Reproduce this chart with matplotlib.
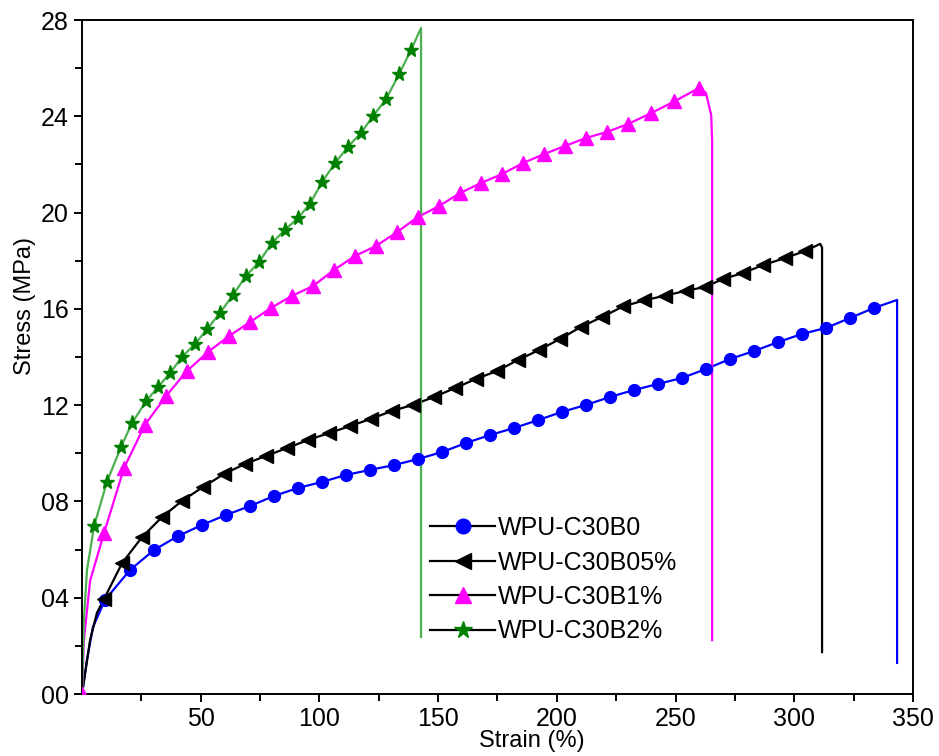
import matplotlib.pyplot as plt
from matplotlib.lines import Line2D

plt.rcParams['font.family'] = ['Liberation Sans', 'DejaVu Sans']

# WPU-C30B0 (blue circles)
b0_x = [9.7, 20.2, 30.3, 40.4, 50.5, 60.7, 70.8, 80.9, 91.0, 101.1, 111.2, 121.3,
        131.4, 141.5, 151.6, 161.8, 171.9, 182.0, 192.1, 202.2, 212.3, 222.4, 232.5,
        242.6, 252.7, 262.8, 273.0, 283.1, 293.2, 303.3, 313.4, 323.5, 333.6]
b0_y = [3.91, 5.15, 5.98, 6.56, 7.02, 7.44, 7.81, 8.23, 8.56, 8.81, 9.10, 9.31,
        9.51, 9.76, 10.05, 10.43, 10.76, 11.05, 11.38, 11.72, 12.01, 12.34, 12.63,
        12.88, 13.13, 13.50, 13.92, 14.25, 14.62, 14.96, 15.21, 15.62, 16.04]
b0_start_x = [0, 2.1, 4.6]
b0_start_y = [0, 1.41, 2.78]
b0_end_x = [343.3, 343.3]
b0_end_y = [16.37, 1.29]

# WPU-C30B05% (black left triangles)
b05_x = [9.3, 16.9, 25.3, 33.7, 42.1, 51.0, 59.8, 68.7, 77.5, 86.4, 95.2, 104.0,
         112.9, 121.7, 130.6, 139.4, 148.3, 157.1, 166.0, 174.8, 183.7, 192.5, 201.3,
         210.2, 219.0, 227.9, 236.7, 245.6, 254.4, 262.4, 270.0, 278.4, 286.9, 296.1, 304.5]
b05_y = [3.95, 5.44, 6.52, 7.35, 8.02, 8.60, 9.14, 9.56, 9.89, 10.22, 10.55, 10.84,
         11.13, 11.43, 11.76, 12.01, 12.34, 12.71, 13.09, 13.42, 13.88, 14.29, 14.75,
         15.25, 15.66, 16.10, 16.35, 16.55, 16.75, 16.91, 17.24, 17.49, 17.82, 18.11, 18.40]
b05_start_x = [0, 3.4, 6.3]
b05_start_y = [0, 2.24, 3.37]
b05_end_x = [310.9, 311.7, 311.7]
b05_end_y = [18.70, 18.55, 1.74]

# WPU-C30B1% (magenta triangles)
b1_x = [0, 9.3, 17.7, 26.5, 35.4, 44.2, 53.1, 61.9, 70.8, 79.6, 88.5, 97.3, 106.2,
        115.0, 123.8, 132.7, 141.5, 150.4, 159.2, 168.1, 176.9, 185.8, 194.6, 203.5,
        212.3, 221.1, 230.0, 239.5, 249.5, 259.9]
b1_y = [0, 6.69, 9.39, 11.18, 12.38, 13.42, 14.21, 14.87, 15.45, 16.04, 16.54, 16.95,
        17.62, 18.20, 18.61, 19.19, 19.82, 20.27, 20.81, 21.23, 21.60, 22.06, 22.43,
        22.77, 23.10, 23.35, 23.68, 24.12, 24.62, 25.18]
b1_start_x = [0.8, 3.4]
b1_start_y = [2.24, 4.70]
b1_end_x = [262.8, 265.0, 265.4, 265.4]
b1_end_y = [24.97, 24.05, 23.0, 2.24]

# WPU-C30B2% (green stars)
b2_x = [5.1, 10.5, 16.4, 21.1, 27.0, 32.0, 37.1, 42.1, 47.6, 52.7, 58.1, 63.6, 69.1,
        74.6, 80.0, 85.5, 91.0, 96.0, 101.1, 106.6, 112.0, 117.5, 122.6, 128.1, 133.6, 138.6]
b2_y = [6.98, 8.81, 10.26, 11.26, 12.17, 12.75, 13.34, 14.00, 14.54, 15.16, 15.83,
        16.58, 17.37, 17.95, 18.74, 19.28, 19.78, 20.36, 21.27, 22.06, 22.73, 23.31,
        24.01, 24.72, 25.76, 26.76]
b2_start_x = [0, 0.8, 2.1]
b2_start_y = [0, 3.07, 5.15]
b2_end_x = [142.8, 142.8]
b2_end_y = [27.67, 2.37]

labels = ['WPU-C30B0', 'WPU-C30B05%', 'WPU-C30B1%', 'WPU-C30B2%']

fig = plt.figure(figsize=(9.39, 7.56), dpi=100)
ax = fig.add_axes([82 / 939, 1 - 694 / 756, 831 / 939, 674 / 756])

series = [
    (b0_start_x, b0_start_y, b0_x, b0_y, b0_end_x, b0_end_y, '#0000ff', '#0000ff', 'o', 8.5),
    (b05_start_x, b05_start_y, b05_x, b05_y, b05_end_x, b05_end_y, 'black', 'black', '<', 10),
    (b1_start_x, b1_start_y, b1_x, b1_y, b1_end_x, b1_end_y, '#ff00ff', '#ff00ff', '^', 10),
    (b2_start_x, b2_start_y, b2_x, b2_y, b2_end_x, b2_end_y, '#4caf50', '#008000', '*', 11),
]

handles = []
for (sx, sy, mx, my, ex, ey, lc, mc, mk, ms), lab in zip(series, labels):
    if mk == '^':
        lx = [mx[0]] + sx + mx[1:] + ex
        ly = [my[0]] + sy + my[1:] + ey
    else:
        lx = sx + mx + ex
        ly = sy + my + ey
    ax.plot(lx, ly, color=lc, lw=1.6, zorder=2)
    ax.plot(mx, my, ls='none', marker=mk, ms=ms, color=mc, zorder=3)
    handles.append(Line2D([], [], color='black', lw=1.6, marker=mk, ms=ms + 2,
                          markerfacecolor=mc, markeredgecolor=mc))

ax.set_xlim(0, 350)
ax.set_ylim(0, 28)
ax.set_xticks([50, 100, 150, 200, 250, 300, 350])
ax.set_xticks([25, 75, 125, 175, 225, 275, 325], minor=True)
ax.set_yticks([0, 4, 8, 12, 16, 20, 24, 28])
ax.set_yticklabels(['00', '04', '08', '12', '16', '20', '24', '28'])
ax.set_yticks([2, 6, 10, 14, 18, 22, 26], minor=True)
ax.tick_params(which='both', direction='out', labelsize=18, width=1.4)
ax.tick_params(which='major', length=6)
ax.tick_params(which='minor', length=5)
for s in ax.spines.values():
    s.set_linewidth(1.4)

fig.text(532 / 939, 1 - 741 / 756, 'Strain (%)', fontsize=17, ha='center', va='center')
fig.text(25 / 939, 1 - 306 / 756, 'Stress (MPa)', fontsize=17, ha='center', va='center',
         rotation=90)

ax.legend(handles, labels, loc='upper left', bbox_to_anchor=(430 / 939, 1 - 516 / 756),
          bbox_transform=fig.transFigure, frameon=False, fontsize=18,
          handlelength=2.6, handletextpad=0.12, labelspacing=0.42, borderpad=0,
          borderaxespad=0)

fig.savefig('out.png', dpi=100)
